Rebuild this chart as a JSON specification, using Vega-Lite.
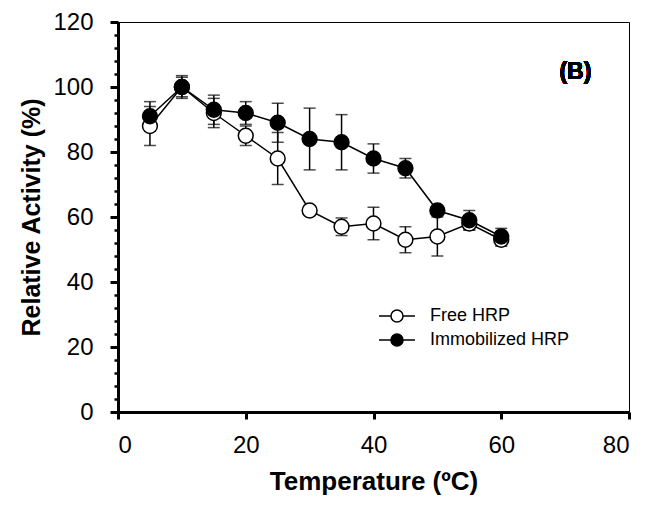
{
  "$schema": "https://vega.github.io/schema/vega-lite/v6.json",
  "width": 511,
  "height": 390,
  "autosize": {"type": "none"},
  "padding": {"left": 118, "top": 22, "right": 35, "bottom": 93},
  "background": "white",
  "config": {
    "font": "Liberation Sans",
    "view": {"stroke": "black", "strokeWidth": 1},
    "axis": {"grid": false, "labelFont": "Liberation Sans", "titleFont": "Liberation Sans", "labelColor": "black", "titleColor": "black", "domainColor": "black", "tickColor": "black"}
  },
  "data": {
    "values": [
      {"temp": 5, "series": "Free HRP", "activity": 88, "err": 6},
      {"temp": 10, "series": "Free HRP", "activity": 100, "err": 3},
      {"temp": 15, "series": "Free HRP", "activity": 92, "err": 4.5},
      {"temp": 20, "series": "Free HRP", "activity": 85, "err": 3},
      {"temp": 25, "series": "Free HRP", "activity": 78, "err": 8},
      {"temp": 30, "series": "Free HRP", "activity": 62, "err": 1.5},
      {"temp": 35, "series": "Free HRP", "activity": 57, "err": 2.7},
      {"temp": 40, "series": "Free HRP", "activity": 58, "err": 5},
      {"temp": 45, "series": "Free HRP", "activity": 53, "err": 4},
      {"temp": 50, "series": "Free HRP", "activity": 54, "err": 6},
      {"temp": 55, "series": "Free HRP", "activity": 58, "err": 2},
      {"temp": 60, "series": "Free HRP", "activity": 53, "err": 2},
      {"temp": 5, "series": "Immobilized HRP", "activity": 91, "err": 4.5},
      {"temp": 10, "series": "Immobilized HRP", "activity": 100, "err": 3.5},
      {"temp": 15, "series": "Immobilized HRP", "activity": 93, "err": 4.5},
      {"temp": 20, "series": "Immobilized HRP", "activity": 92, "err": 3.5},
      {"temp": 25, "series": "Immobilized HRP", "activity": 89, "err": 6},
      {"temp": 30, "series": "Immobilized HRP", "activity": 84, "err": 9.5},
      {"temp": 35, "series": "Immobilized HRP", "activity": 83, "err": 8.5},
      {"temp": 40, "series": "Immobilized HRP", "activity": 78, "err": 4.5},
      {"temp": 45, "series": "Immobilized HRP", "activity": 75, "err": 3},
      {"temp": 50, "series": "Immobilized HRP", "activity": 62, "err": 1},
      {"temp": 55, "series": "Immobilized HRP", "activity": 59, "err": 3},
      {"temp": 60, "series": "Immobilized HRP", "activity": 54, "err": 2.5}
    ]
  },
  "resolve": {"axis": {"y": "independent"}},
  "layer": [
    {
      "mark": {"type": "errorbar", "ticks": {"size": 12}, "thickness": 1.5, "color": "black"},
      "encoding": {
        "x": {"field": "temp", "type": "quantitative", "scale": {"domain": [0, 80]},
          "axis": {"values": [0, 20, 40, 60, 80], "domainWidth": 3, "tickWidth": 3, "tickSize": 7, "labelFontSize": 24, "labelPadding": 14, "title": "Temperature (ºC)", "titleFontSize": 26, "titleFontWeight": "bold", "titlePadding": 11}},
        "y": {"field": "activity", "type": "quantitative", "scale": {"domain": [0, 120]},
          "axis": {"orient": "left", "values": [0, 20, 40, 60, 80, 100, 120], "domainWidth": 3, "tickWidth": 3, "tickSize": 8, "labelFontSize": 24, "labelPadding": 17, "title": "Relative Activity  (%)", "titleFontSize": 25, "titleFontWeight": "bold", "titlePadding": 8}},
        "yError": {"field": "err"},
        "detail": {"field": "series"}
      }
    },
    {
      "mark": {"type": "line", "color": "black", "strokeWidth": 1.5},
      "encoding": {
        "x": {"field": "temp", "type": "quantitative"},
        "y": {"field": "activity", "type": "quantitative",
          "axis": {"orient": "left", "values": [4, 8, 12, 16, 24, 28, 32, 36, 44, 48, 52, 56, 64, 68, 72, 76, 84, 88, 92, 96, 104, 108, 112, 116], "labels": false, "domain": false, "tickSize": 4, "tickWidth": 2.5, "title": null}},
        "detail": {"field": "series"}
      }
    },
    {
      "mark": {"type": "point", "shape": "circle", "size": 220, "stroke": "black", "strokeWidth": 1.5, "opacity": 1, "filled": true},
      "encoding": {
        "x": {"field": "temp", "type": "quantitative"},
        "y": {"field": "activity", "type": "quantitative", "axis": null},
        "fill": {"field": "series", "type": "nominal",
          "scale": {"domain": ["Free HRP", "Immobilized HRP"], "range": ["white", "black"]},
          "legend": {"orient": "none", "legendX": 269, "legendY": 284, "title": null,
            "symbolType": "M-2,0H-0.67M0.67,0H2M0.67,0A0.67,0.67,0,1,1,-0.67,0A0.67,0.67,0,1,1,0.67,0",
            "symbolSize": 324, "symbolStrokeColor": "black", "symbolStrokeWidth": 1.5,
            "labelFontSize": 18, "labelColor": "black", "labelFont": "Liberation Sans", "rowPadding": 4, "labelOffset": 23}}
      }
    },
    {
      "mark": {"type": "text", "text": "(B)", "fontSize": 23, "fontWeight": "bold", "color": "black", "fill": "black", "font": "Liberation Sans"},
      "encoding": {
        "x": {"datum": 71.6},
        "y": {"datum": 104.5, "axis": null}
      }
    }
  ]
}
